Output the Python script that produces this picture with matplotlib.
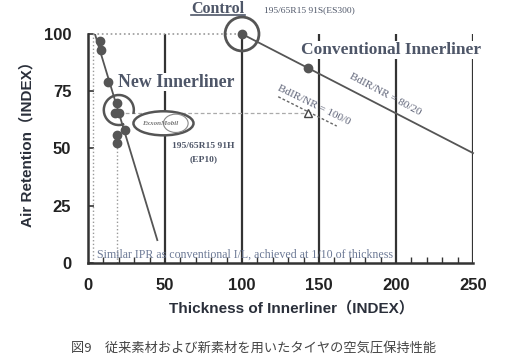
import matplotlib
matplotlib.use('Agg')
import matplotlib.pyplot as plt
from matplotlib.patches import Arc, Ellipse
from matplotlib.lines import Line2D

# data
new_x = [7.8, 8.4, 13, 18.6, 17.5, 20.3, 24, 19, 18.6]
new_y = [97, 93, 79, 70, 65.5, 65.5, 58, 56, 52.5]
new_line_x = [4.5, 45]
new_line_y = [100, 10]

conv_x = [100, 143]
conv_y = [100, 85]
conv_line_x = [100, 250]
conv_line_y = [100, 48]

tri_x = [143]
tri_y = [65.5]
tri_line_x = [123.5, 161.5]
tri_line_y = [72.6, 59.8]

grid_x = [50, 100, 150, 200, 250]
x_ticks = [0, 50, 100, 150, 200, 250]
y_ticks = [0, 25, 50, 75, 100]

LINE = '#555555'
TXT = '#4e5668'
SANS = ['Liberation Sans', 'Noto Sans CJK JP']

fig = plt.figure(figsize=(5.07, 3.62), dpi=100)
ax = fig.add_axes([0.1736, 0.2735, 0.7594, 0.6326])
ax.set_xlim(0, 250)
ax.set_ylim(0, 100)

ax.spines['top'].set_visible(False)
ax.spines['right'].set_visible(False)
for s in ['left', 'bottom']:
    ax.spines[s].set_linewidth(1.8)
    ax.spines[s].set_color('#333333')

ax.vlines(grid_x, 0, 100, color='#333333', lw=1.6, zorder=1)

ax.set_xticks(x_ticks)
ax.set_yticks(y_ticks)
ax.set_xticks(range(0, 251, 10), minor=True)
ax.tick_params(axis='x', which='major', length=0, pad=11)
ax.tick_params(axis='x', which='minor', direction='in', length=4, width=1, color='#333333')
ax.tick_params(axis='y', direction='in', length=4, width=1.2, color='#333333', pad=12)
for lab in ax.get_xticklabels() + ax.get_yticklabels():
    lab.set_fontfamily('Liberation Sans')
    lab.set_fontweight('bold')
    lab.set_fontsize(12)
    lab.set_color('#222222')

# guide lines
ax.plot([3, 3], [0, 100], ls=':', color='#999999', lw=1)
ax.plot([3, 100], [100, 100], ls=':', color='#999999', lw=1.2, clip_on=False)
ax.plot([19, 19], [0, 52], ls=':', color='#999999', lw=1)
ax.plot([20, tri_x[0]], [tri_y[0], tri_y[0]], ls='--', color='#aaaaaa', lw=0.9, dashes=(3, 2))

# series
ax.plot(new_line_x, new_line_y, color=LINE, lw=1.3, zorder=3)
ax.plot(new_x, new_y, 'o', color=LINE, ms=6, zorder=4)
ax.plot(conv_line_x, conv_line_y, color=LINE, lw=1.3, zorder=3, clip_on=False)
ax.plot(conv_x, conv_y, 'o', color=LINE, ms=6, zorder=4, clip_on=False)
ax.plot(tri_line_x, tri_line_y, ls='--', color='#666666', lw=1, dashes=(2, 1.5))
ax.plot(tri_x, tri_y, '^', mfc='white', mec='#444444', ms=6, zorder=4)

# circles
ax.add_patch(Ellipse((100, 100), 22, 14.8, fill=False, ec=LINE, lw=2, clip_on=False, zorder=5))
ax.add_patch(Arc((20, 66.8), 19.5, 13.1, theta1=-10, theta2=300, ec=LINE, lw=1.8, zorder=5))

# logo
ax.add_patch(Ellipse((49, 61), 39, 10.5, fc='white', ec=LINE, lw=1.8, zorder=6))
ax.add_patch(Ellipse((57, 61), 16, 8, fc='white', ec='#888888', lw=0.8, zorder=6))
ax.text(47, 61, 'ExxonMobil', ha='center', va='center', fontsize=5, style='italic',
        fontweight='bold', color='#777777', family='Liberation Serif', zorder=7)

# labels
serif = dict(family='Liberation Serif', fontweight='bold', color=TXT)
ctl = ax.text(84.4, 111, 'Control', ha='center', va='center', fontsize=11.5, clip_on=False, **serif)
ax.text(144, 110.5, '195/65R15 91S(ES300)', ha='center', va='center', fontsize=6.8,
        family='Liberation Serif', color=TXT, clip_on=False)
ax.text(197, 93, 'Conventional Innerliner', ha='center', va='center', fontsize=12.5,
        bbox=dict(fc='white', ec='none', pad=1), zorder=6, **serif)
ax.text(57, 79, 'New Innerliner', ha='center', va='center', fontsize=12.8,
        bbox=dict(fc='white', ec='none', pad=0.5), zorder=6, **serif)
ax.text(75, 51, '195/65R15 91H', ha='center', va='center', fontsize=6.8,
        family='Liberation Serif', color=TXT, fontweight='bold')
ax.text(75, 45.5, '(EP10)', ha='center', va='center', fontsize=6.8,
        family='Liberation Serif', color=TXT, fontweight='bold')
ax.text(193, 73.4, 'BdIR/NR = 80/20', ha='center', va='center', fontsize=8, rotation=-28,
        family='Liberation Serif', color='#5f6478')
ax.text(146.8, 69, 'BdIR/NR = 100/0', ha='center', va='center', fontsize=8, rotation=-26,
        family='Liberation Serif', color='#5f6478')
ax.text(5.8, 3.5, 'Similar IPR as conventional I/L, achieved at 1/10 of thickness',
        ha='left', va='center', fontsize=8.6, family='Liberation Serif', color='#6d7a96')

# underline for "Control"
fig.canvas.draw()
bb = ctl.get_window_extent().transformed(fig.transFigure.inverted())
fig.add_artist(Line2D([bb.x0, bb.x1], [bb.y0 + 0.004, bb.y0 + 0.004], color=TXT, lw=1.2))

fig.text(0.574, 0.149, 'Thickness of Innerliner（INDEX）', ha='center', va='center',
         fontsize=11, fontweight='bold', family=SANS, color='#2a2f3a')
fig.text(0.053, 0.612, 'Air Retention（INDEX）', ha='center', va='center', rotation=90,
         fontsize=11, fontweight='bold', family=SANS, color='#2a2f3a')
fig.text(0.5, 0.039, '図9　従来素材および新素材を用いたタイヤの空気圧保持性能', ha='center', va='center',
         fontsize=9.5, family=['Noto Sans CJK JP', 'DejaVu Sans'], color='#444444')

fig.savefig('out.png', dpi=100)
